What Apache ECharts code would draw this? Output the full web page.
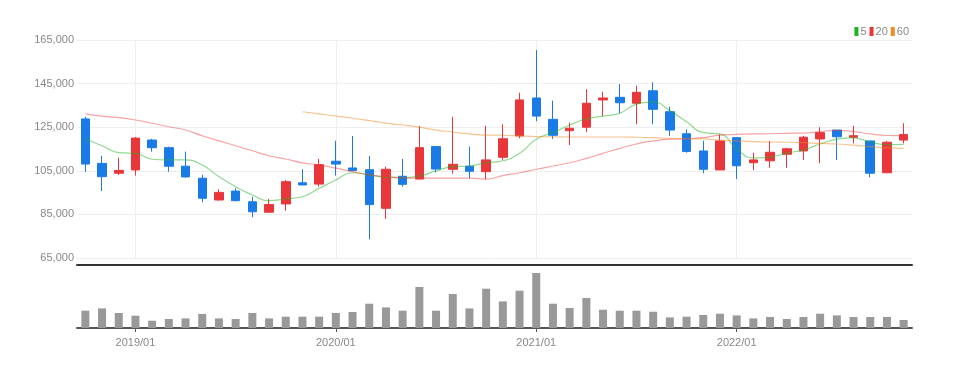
<!DOCTYPE html>
<html>
<head>
<meta charset="utf-8">
<script src="https://cdn.jsdelivr.net/npm/echarts@6/dist/echarts.min.js"></script>
<style>
  html, body { margin: 0; padding: 0; background: #fff; }
  #chart { width: 958px; height: 369px; }
</style>
</head>
<body>
<div id="chart"></div>
<script>
// monthly candles, 2018/10 .. 2022/11
const months = [
  '2018/10','2018/11','2018/12','2019/01','2019/02','2019/03','2019/04','2019/05','2019/06','2019/07',
  '2019/08','2019/09','2019/10','2019/11','2019/12','2020/01','2020/02','2020/03','2020/04','2020/05',
  '2020/06','2020/07','2020/08','2020/09','2020/10','2020/11','2020/12','2021/01','2021/02','2021/03',
  '2021/04','2021/05','2021/06','2021/07','2021/08','2021/09','2021/10','2021/11','2021/12','2022/01',
  '2022/02','2022/03','2022/04','2022/05','2022/06','2022/07','2022/08','2022/09','2022/10','2022/11'
];
// [open, close, low, high]
const ohlc = [
  [128800,108100,104500,129800],[108400,102300,95700,111900],[103900,105200,103100,111000],[105400,120000,102800,120500],
  [119100,115600,113800,119700],[115600,107100,104600,116100],[107100,102200,101800,113800],[101600,92400,90600,103100],
  [91600,95100,91300,96500],[95700,91300,91000,97000],[90800,86200,83700,93100],[86000,89500,86000,92100],
  [89800,100000,86700,100800],[99500,98500,98500,105700],[98900,107800,97700,110400],[109400,108100,102800,118800],
  [106300,105100,105100,121000],[105500,89500,73600,111800],[87800,105700,82900,106900],[102500,98800,97700,110400],
  [101200,115600,101200,125600],[116100,105800,104300,116100],[105700,108000,103700,129800],[107100,104800,101600,116100],
  [104600,110000,101100,125600],[111200,119700,110000,126300],[121000,137500,119900,140800],[138400,130100,127800,160400],
  [128600,121300,119600,137200],[123400,124500,116800,127100],[125000,136000,122700,142400],[137500,138400,130100,141300],
  [138700,136200,131400,144800],[136000,141000,126300,144000],[141700,133200,126300,145600],[132100,123700,121000,134400],
  [122000,113900,113300,124000],[114100,105700,103900,118800],[105400,118700,105400,121700],[120200,107300,101200,120200],
  [108700,110000,105400,113300],[109600,113500,106400,118700],[112600,115100,106400,115600],[114100,120400,110000,121100],
  [119600,122500,108400,125000],[123700,120600,110000,123700],[120400,121100,117600,125600],[118700,103900,102000,118700],
  [104100,118100,104100,118700],[119100,121600,117600,126800]
];
const ma5 = [
  119600,116500,113300,113000,110300,110000,110000,107700,102300,97700,
  93900,91300,92100,93100,97000,100800,104100,103100,102000,101800,
  102600,104900,106900,107200,108700,109600,113000,119500,122500,126000,
  128800,130100,131400,135600,136600,132600,127500,122500,121900,115000,
  110900,111300,113200,114500,117300,119500,120100,118200,117000,117100
];
const ma20 = [
  131100,130100,129400,128300,126800,125200,123700,121100,118700,116500,
  114200,111900,110400,108600,107700,106200,104600,103100,102300,101800,
  101600,101600,101600,101600,101200,102800,104100,105700,107200,108700,
  110700,113000,115300,117300,118700,119500,119700,120200,121400,121700,
  121900,122000,122200,122300,123000,123500,123000,121900,121200,121100
];
const ma60 = [
  null,null,null,null,null,null,null,null,null,null,
  null,null,null,132100,131100,130100,129100,128000,126900,126000,
  125000,123700,122800,121900,121400,121300,121000,120700,120600,120500,
  120500,120500,120500,120400,120200,119900,119700,119600,119100,118700,
  118400,118200,118100,117900,117600,117300,116800,116100,115500,115300
];
const volume = [
  173000,196000,150000,123000,73000,90000,96000,140000,96000,90000,
  150000,96000,113000,113000,113000,150000,160000,243000,206000,173000,
  410000,173000,340000,196000,393000,266000,373000,550000,243000,200000,
  300000,183000,173000,173000,163000,106000,113000,130000,143000,126000,
  96000,110000,90000,110000,143000,126000,110000,110000,110000,80000
];
const maNames = ['5', '20', '60'];

const chart = echarts.init(document.getElementById('chart'), null, {renderer: 'canvas'});
const isJan = (i, v) => String(v).endsWith('/01');
const FONT = "'Liberation Sans Narrow', 'Liberation Sans', sans-serif";

const option = {
  animation: false,
  legend: {
    data: maNames,
    right: 44,
    top: 21,
    itemWidth: 4,
    itemHeight: 9,
    itemGap: 3,
    icon: 'rect',
    textStyle: { color: '#888', fontSize: 11, fontFamily: FONT, padding: [0, 0, 0, -3] }
  },
  grid: [
    { left: 77, right: 46, top: 40, height: 218 },
    { left: 77, right: 46, top: 268, height: 60 }
  ],
  xAxis: [
    {
      type: 'category', data: months, gridIndex: 0, offset: 7,
      axisLine: { lineStyle: { color: '#333', width: 2 } },
      axisTick: { show: false },
      axisLabel: { show: false },
      splitLine: { show: true, interval: isJan, alignWithLabel: true, lineStyle: { color: '#eee' } }
    },
    {
      type: 'category', data: months, gridIndex: 1,
      axisLine: { lineStyle: { color: '#555', width: 2 } },
      axisTick: { show: true, interval: isJan, alignWithLabel: true, length: 4, lineStyle: { color: '#555' } },
      axisLabel: { interval: isJan, color: '#888', fontSize: 11, fontFamily: FONT, margin: 9 },
      splitLine: { show: false }
    }
  ],
  yAxis: [
    {
      type: 'value', gridIndex: 0, min: 65000, max: 165000, interval: 20000,
      axisLine: { show: false }, axisTick: { show: false },
      axisLabel: {
        color: '#888', fontSize: 11, fontFamily: FONT, margin: 3,
        formatter: v => v.toLocaleString('en-US')
      },
      splitLine: { lineStyle: { color: '#eee' } }
    },
    {
      type: 'value', gridIndex: 1, min: 0, max: 600000,
      axisLine: { show: false }, axisTick: { show: false },
      axisLabel: { show: false }, splitLine: { show: false }
    }
  ],
  series: [
    {
      name: 'candle', type: 'candlestick', data: ohlc,
      xAxisIndex: 0, yAxisIndex: 0, barWidth: 9,
      itemStyle: {
        color: '#e8363a', color0: '#1a7be6',
        borderColor: '#e8363a', borderColor0: '#1a7be6', borderWidth: 1
      }
    },
    {
      name: '5', type: 'line', data: ma5, smooth: true, symbol: 'none',
      itemStyle: { color: '#1fb51f' },
      lineStyle: { width: 1.2, opacity: 0.5 }
    },
    {
      name: '20', type: 'line', data: ma20, smooth: true, symbol: 'none',
      itemStyle: { color: '#ee3333' },
      lineStyle: { width: 1.2, opacity: 0.45 }
    },
    {
      name: '60', type: 'line', data: ma60, smooth: true, symbol: 'none',
      itemStyle: { color: '#f08a24' },
      lineStyle: { width: 1.2, opacity: 0.5 }
    },
    {
      name: 'volume', type: 'bar', data: volume,
      xAxisIndex: 1, yAxisIndex: 1, barWidth: 8,
      itemStyle: { color: '#999' }
    }
  ]
};
chart.setOption(option);
</script>
</body>
</html>
